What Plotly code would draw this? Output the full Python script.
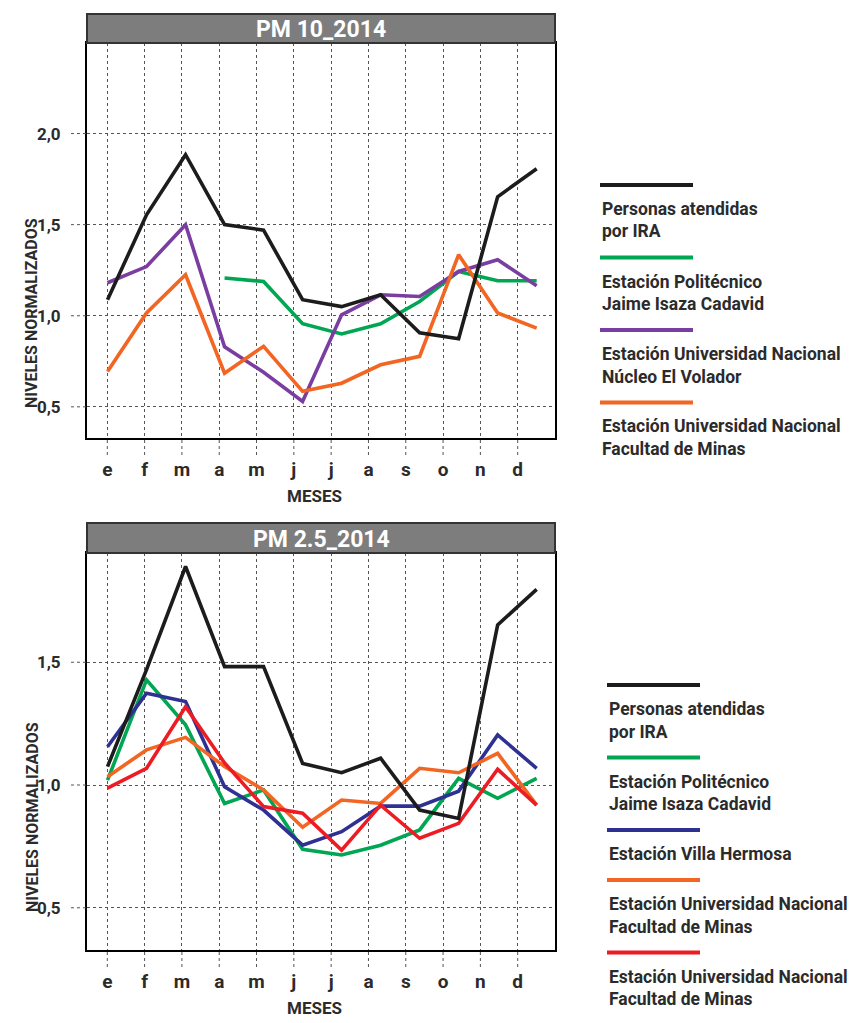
import plotly.graph_objects as go

# page body adds an 8px margin, so the figure is 8px smaller and coordinates shifted
OFF = 8
W, H = 866 - OFF, 1023 - OFF
FONT = "Roboto, Liberation Sans, Arial, sans-serif"
TXT = "#2b2b2b"

months = ["e", "f", "m", "a", "m", "j", "j", "a", "s", "o", "n", "d"]

# PM10 2014
pm10_ira = [1.088, 1.554, 1.884, 1.50, 1.47, 1.088, 1.05, 1.115, 0.907, 0.874, 1.653, 1.807]
pm10_poli = [None, None, None, 1.207, 1.188, 0.956, 0.90, 0.956, 1.078, 1.243, 1.192, 1.192]
pm10_volador = [1.181, 1.27, 1.50, 0.83, 0.69, 0.53, 1.005, 1.115, 1.106, 1.243, 1.307, 1.165]
pm10_minas = [0.694, 1.015, 1.225, 0.685, 0.832, 0.585, 0.63, 0.731, 0.777, 1.335, 1.015, 0.932]

# PM2.5 2014
pm25_ira = [1.075, 1.47, 1.89, 1.482, 1.482, 1.088, 1.05, 1.109, 0.898, 0.864, 1.652, 1.797]
pm25_poli = [1.02, 1.428, 1.245, 0.925, 0.98, 0.738, 0.715, 0.755, 0.817, 1.027, 0.946, 1.027]
pm25_villa = [1.156, 1.374, 1.34, 0.993, 0.898, 0.755, 0.81, 0.914, 0.914, 0.975, 1.204, 1.068]
pm25_minas_a = [1.034, 1.143, 1.194, 1.075, 0.98, 0.828, 0.939, 0.925, 1.068, 1.05, 1.129, 0.918]
pm25_minas_b = [0.987, 1.068, 1.319, 1.09, 0.912, 0.885, 0.735, 0.918, 0.783, 0.844, 1.064, 0.918]

C_BLACK = "#1c1c1c"
C_GREEN = "#00a651"
C_PURPLE = "#7a3ea1"
C_ORANGE = "#f26522"
C_BLUE = "#2e3192"
C_RED = "#ed1c24"

top_series = [
    (pm10_poli, C_GREEN, "Estación Politécnico Jaime Isaza Cadavid"),
    (pm10_volador, C_PURPLE, "Estación Universidad Nacional Núcleo El Volador"),
    (pm10_minas, C_ORANGE, "Estación Universidad Nacional Facultad de Minas"),
    (pm10_ira, C_BLACK, "Personas atendidas por IRA"),
]
bot_series = [
    (pm25_poli, C_GREEN, "Estación Politécnico Jaime Isaza Cadavid"),
    (pm25_villa, C_BLUE, "Estación Villa Hermosa"),
    (pm25_minas_a, C_ORANGE, "Estación Universidad Nacional Facultad de Minas"),
    (pm25_minas_b, C_RED, "Estación Universidad Nacional Facultad de Minas"),
    (pm25_ira, C_BLACK, "Personas atendidas por IRA"),
]

top_legend = [
    (C_BLACK, ["Personas atendidas", "por IRA"]),
    (C_GREEN, ["Estación Politécnico", "Jaime Isaza Cadavid"]),
    (C_PURPLE, ["Estación Universidad Nacional", "Núcleo El Volador"]),
    (C_ORANGE, ["Estación Universidad Nacional", "Facultad de Minas"]),
]
bot_legend = [
    (C_BLACK, ["Personas atendidas", "por IRA"]),
    (C_GREEN, ["Estación Politécnico", "Jaime Isaza Cadavid"]),
    (C_BLUE, ["Estación Villa Hermosa"]),
    (C_ORANGE, ["Estación Universidad Nacional", "Facultad de Minas"]),
    (C_RED, ["Estación Universidad Nacional", "Facultad de Minas"]),
]


def px(x):
    return (x - OFF) / W


def py(y):
    return 1 - (y - OFF) / H


idx = list(range(len(months)))
fig = go.Figure()

for vals, col, name in top_series:
    fig.add_trace(go.Scatter(x=idx, y=vals, mode="lines", name=name,
                             line=dict(color=col, width=3.6),
                             xaxis="x3", yaxis="y", showlegend=False,
                             connectgaps=False))
for vals, col, name in bot_series:
    fig.add_trace(go.Scatter(x=idx, y=vals, mode="lines", name=name,
                             line=dict(color=col, width=3.6),
                             xaxis="x4", yaxis="y2", showlegend=False))

# panel geometry (pixels in the reference)
L, R = 87, 555
panels = [
    dict(bar=(14, 43), plot=(43, 438), yr=[0.329, 2.497], ticks=[0.5, 1.0, 1.5, 2.0],
         title="PM 10_2014", xa="xaxis", ya="yaxis", dxa="xaxis3", legend=top_legend,
         leg_top=185, ylab_c=313, meses=496),
    dict(bar=(523, 553), plot=(553, 950), yr=[0.328, 1.945], ticks=[0.5, 1.0, 1.5],
         title="PM 2.5_2014", xa="xaxis2", ya="yaxis2", dxa="xaxis4", legend=bot_legend,
         leg_top=685, ylab_c=817, meses=1008),
]

layout = dict(
    width=W, height=H, margin=dict(l=0, r=0, t=0, b=0),
    paper_bgcolor="white", plot_bgcolor="white",
    separators=",.", showlegend=False,
    font=dict(family=FONT, color=TXT),
)
shapes = []
annotations = []

for k, p in enumerate(panels):
    top, bot = p["plot"]
    ydom = [py(bot), py(top)]
    yname = "y" if k == 0 else "y2"
    xname = "x" if k == 0 else "x2"
    layout[p["xa"]] = dict(
        domain=[px(L), px(R)], anchor=yname, range=[-0.544, 12.0],
        tickmode="array", tickvals=idx, ticktext=months,
        showgrid=True, gridcolor="#555555", griddash="dot", gridwidth=1,
        showline=True, mirror=True, linecolor="black", linewidth=2,
        zeroline=False, ticks="", ticklabelstandoff=13,
        tickfont=dict(size=19, family=FONT, color=TXT, weight="bold"),
        fixedrange=True,
    )
    layout[p["dxa"]] = dict(
        domain=[px(L), px(R)], anchor=yname, overlaying=xname,
        range=[-0.526, 11.47], visible=False, showgrid=False, zeroline=False,
    )
    layout[p["ya"]] = dict(
        domain=ydom, anchor=xname, range=p["yr"],
        tickmode="array", tickvals=p["ticks"], tickformat=".1f",
        showgrid=True, gridcolor="#555555", griddash="dot", gridwidth=1,
        showline=True, mirror=True, linecolor="black", linewidth=2,
        zeroline=False, ticks="", ticklabelstandoff=21,
        tickfont=dict(size=17, family=FONT, color=TXT, weight="bold"),
        fixedrange=True,
    )
    # dotted extensions of the grid outside the frame
    for i in idx:
        shapes.append(dict(type="line", xref=xname, yref=yname + " domain",
                           x0=i, x1=i, y0=-17 / (bot - top), y1=0,
                           line=dict(color="#555555", width=1, dash="dot")))
    for t in p["ticks"]:
        shapes.append(dict(type="line", xref=xname + " domain", yref=yname,
                           x0=-16 / (R - L), x1=0, y0=t, y1=t,
                           line=dict(color="#555555", width=1, dash="dot")))
    # title bar
    b0, b1 = p["bar"]
    shapes.append(dict(type="rect", xref="paper", yref="paper",
                       x0=px(L), x1=px(R), y0=py(b1), y1=py(b0),
                       fillcolor="#7d7d7d", line=dict(color="#333333", width=2)))
    annotations.append(dict(xref="paper", yref="paper", x=px((L + R) / 2),
                            y=py((b0 + b1) / 2 + 1), text=p["title"], showarrow=False,
                            xanchor="center", yanchor="middle",
                            font=dict(size=23, color="white", family=FONT, weight="bold")))
    # axis titles
    annotations.append(dict(xref="paper", yref="paper", x=px(32), y=py(p["ylab_c"]),
                            text="NIVELES NORMALIZADOS", textangle=-90, showarrow=False,
                            xanchor="center", yanchor="middle",
                            font=dict(size=16, color=TXT, family=FONT, weight="bold")))
    annotations.append(dict(xref="paper", yref="paper", x=px(314), y=py(p["meses"]),
                            text="MESES", showarrow=False, xanchor="center", yanchor="middle",
                            font=dict(size=17, color=TXT, family=FONT, weight="bold")))
    # custom legend
    lx = 600 if k == 0 else 607
    yy = p["leg_top"]
    for col, lines in p["legend"]:
        shapes.append(dict(type="line", xref="paper", yref="paper",
                           x0=px(lx), x1=px(lx + 93), y0=py(yy), y1=py(yy),
                           line=dict(color=col, width=4)))
        ty = yy + 24
        for ln in lines:
            annotations.append(dict(xref="paper", yref="paper", x=px(lx), y=py(ty),
                                    text=ln, showarrow=False, xanchor="left",
                                    yanchor="middle",
                                    font=dict(size=17.5, color=TXT, family=FONT, weight="bold")))
            ty += 22.5
        yy = ty - 22.5 + 26

layout["shapes"] = shapes
layout["annotations"] = annotations
fig.update_layout(**layout)
fig.write_html("out.html")
